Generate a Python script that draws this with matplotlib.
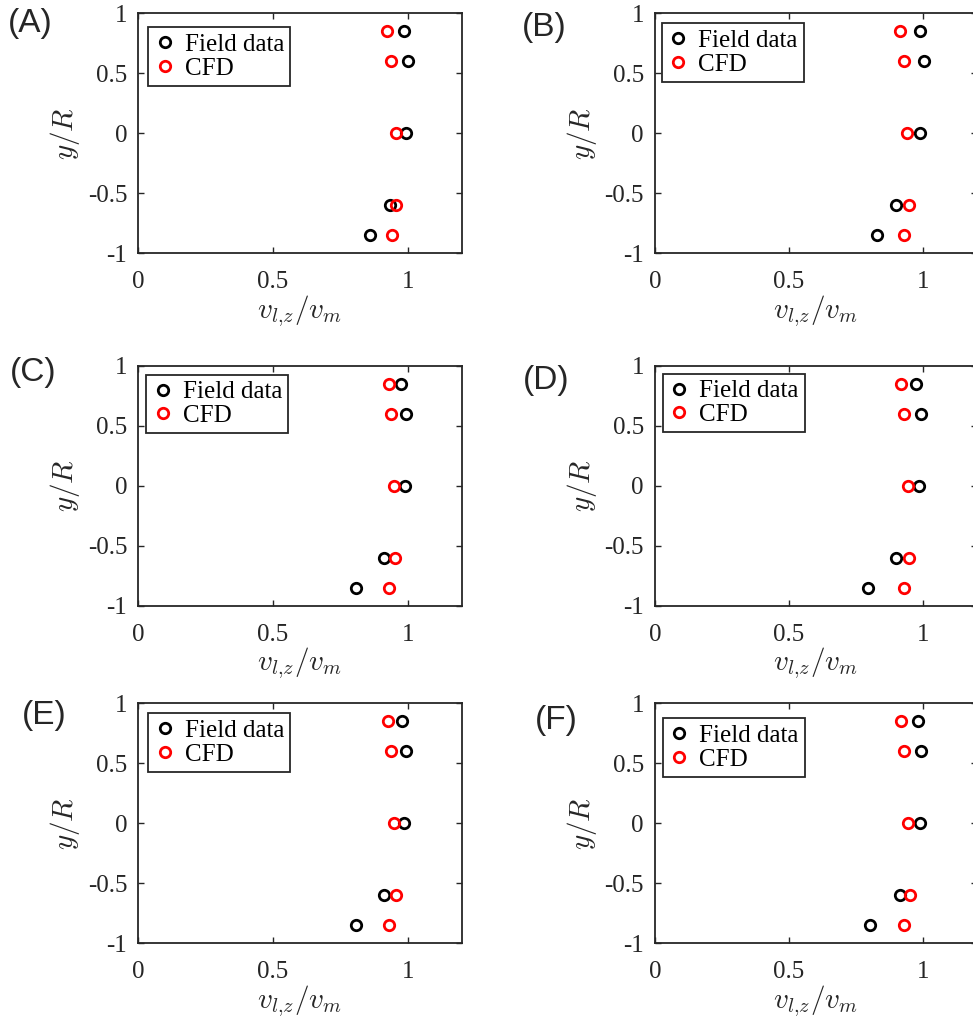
import matplotlib
matplotlib.use('Agg')
import matplotlib.pyplot as plt

# figure size in pixels (dpi 100)
W, H = 973, 1021

# measuring heights y/R
y_pos = [0.85, 0.6, 0, -0.6, -0.85]

panel_labels = ['(A)', '(B)', '(C)', '(D)', '(E)', '(F)']

# v_lz/v_m, field data (black) and CFD (red)
field_A = [0.988, 1.000, 0.995, 0.936, 0.859]
cfd_A = [0.923, 0.938, 0.955, 0.958, 0.940]
field_B = [0.989, 1.004, 0.989, 0.899, 0.830]
cfd_B = [0.915, 0.929, 0.942, 0.949, 0.929]
field_C = [0.976, 0.994, 0.991, 0.912, 0.808]
cfd_C = [0.929, 0.939, 0.949, 0.952, 0.932]
field_D = [0.973, 0.992, 0.985, 0.899, 0.796]
cfd_D = [0.917, 0.930, 0.944, 0.949, 0.930]
field_E = [0.979, 0.995, 0.988, 0.913, 0.808]
cfd_E = [0.925, 0.937, 0.949, 0.955, 0.932]
field_F = [0.981, 0.992, 0.990, 0.916, 0.803]
cfd_F = [0.918, 0.931, 0.944, 0.950, 0.929]

field_all = [field_A, field_B, field_C, field_D, field_E, field_F]
cfd_all = [cfd_A, cfd_B, cfd_C, cfd_D, cfd_E, cfd_F]

x_ticks = [0, 0.5, 1]
x_ticklabels = ['0', '0.5', '1']
y_ticks = [-1, -0.5, 0, 0.5, 1]
y_ticklabels = ['-1', '-0.5', '0', '0.5', '1']

# layout in pixels
col_left = [138.3, 655.0]
col_width = [323.3, 321.5]
row_top = [13.3, 365.7, 703.3]
ax_h = 240.0
label_xy = [(8, 8), (522, 12), (10, 357), (523, 365), (22, 700), (535, 705)]
legend_off = [(10, 14), (7, 10), (8, 9), (8, 8), (10, 10), (8, 15)]

plt.rcParams['font.family'] = ['Liberation Serif', 'DejaVu Serif']
plt.rcParams['mathtext.fontset'] = 'cm'
plt.rcParams['axes.unicode_minus'] = False

fig = plt.figure(figsize=(W / 100, H / 100), dpi=100)
spine_col = '#262626'

for i in range(6):
    r, c = i // 2, i % 2
    left = col_left[c] / W
    bottom = 1 - (row_top[r] + ax_h) / H
    ax = fig.add_axes([left, bottom, col_width[c] / W, ax_h / H])

    ax.plot(field_all[i], y_pos, 'o', mfc='none', mec='black', ms=7.5, mew=2,
            label='Field data', linestyle='none')
    ax.plot(cfd_all[i], y_pos, 'o', mfc='none', mec='#ff0000', ms=7.5, mew=2,
            label='CFD', linestyle='none')

    ax.set_xlim(0, 1.2)
    ax.set_ylim(-1, 1)
    ax.set_xticks(x_ticks)
    ax.set_xticklabels(x_ticklabels)
    ax.set_yticks(y_ticks)
    ax.set_yticklabels(y_ticklabels)
    ax.tick_params(direction='in', length=4, width=1, colors=spine_col,
                   labelsize=18, labelcolor='#262626', top=True, right=True)
    ax.tick_params(axis='x', pad=13)
    ax.tick_params(axis='y', pad=8)
    for s in ax.spines.values():
        s.set_color(spine_col)
        s.set_linewidth(1.3)

    ax.set_xlabel(r'$v_{l{,}z}/v_m$', fontsize=21, color='#262626')
    ax.set_ylabel(r'$y/R$', fontsize=21, color='#262626')
    ax.xaxis.set_label_coords(0.5, -0.165)
    ax.yaxis.set_label_coords(-0.175, 0.5)

    ox, oy = legend_off[i]
    leg = ax.legend(loc='upper left',
                    bbox_to_anchor=(ox / col_width[c], 1 - oy / ax_h),
                    fontsize=18, borderaxespad=0, borderpad=0.25,
                    labelspacing=0.05, handlelength=0.8, handletextpad=0.4,
                    fancybox=False, framealpha=1, edgecolor='#262626')
    leg.get_frame().set_linewidth(1.3)

    lx, ly = label_xy[i]
    fig.text(lx / W, 1 - ly / H, panel_labels[i], fontsize=24,
             family='Liberation Sans', color='#262626', ha='left', va='top')

fig.savefig('out.png', dpi=100, facecolor='white')
